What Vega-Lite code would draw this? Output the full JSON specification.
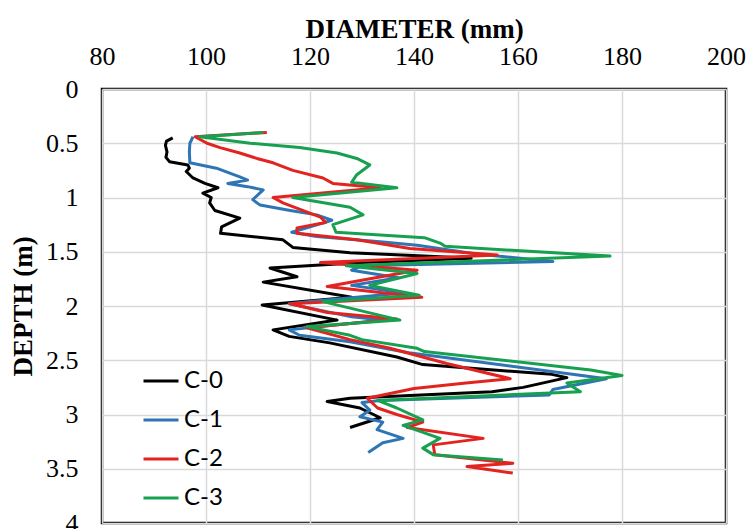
{
  "$schema": "https://vega.github.io/schema/vega-lite/v6.json",
  "width": 624,
  "height": 434,
  "autosize": {"type": "none"},
  "padding": {"left": 102, "top": 89, "right": 22, "bottom": 6},
  "background": "white",
  "config": {"view": {"stroke": "#000000", "strokeWidth": 2.5}},
  "datasets": {
    "curves": [
      {"s": "C-0", "d": 93.6, "y": 0.45}, {"s": "C-0", "d": 92.4, "y": 0.48}, {"s": "C-0", "d": 92.2, "y": 0.52}, {"s": "C-0", "d": 92.5, "y": 0.58}, {"s": "C-0", "d": 92.3, "y": 0.63}, {"s": "C-0", "d": 93.0, "y": 0.67}, {"s": "C-0", "d": 96.5, "y": 0.70}, {"s": "C-0", "d": 96.8, "y": 0.73}, {"s": "C-0", "d": 96.2, "y": 0.76}, {"s": "C-0", "d": 97.5, "y": 0.82}, {"s": "C-0", "d": 99.8, "y": 0.87}, {"s": "C-0", "d": 102.3, "y": 0.91}, {"s": "C-0", "d": 99.4, "y": 0.96}, {"s": "C-0", "d": 101.0, "y": 1.00}, {"s": "C-0", "d": 100.7, "y": 1.05}, {"s": "C-0", "d": 101.7, "y": 1.12}, {"s": "C-0", "d": 106.5, "y": 1.19}, {"s": "C-0", "d": 103.0, "y": 1.27}, {"s": "C-0", "d": 102.8, "y": 1.33}, {"s": "C-0", "d": 114.8, "y": 1.39}, {"s": "C-0", "d": 116.7, "y": 1.46}, {"s": "C-0", "d": 127.7, "y": 1.51}, {"s": "C-0", "d": 142.0, "y": 1.54}, {"s": "C-0", "d": 151.0, "y": 1.56}, {"s": "C-0", "d": 130.0, "y": 1.60}, {"s": "C-0", "d": 112.3, "y": 1.65}, {"s": "C-0", "d": 117.5, "y": 1.73}, {"s": "C-0", "d": 111.0, "y": 1.78}, {"s": "C-0", "d": 128.0, "y": 1.92}, {"s": "C-0", "d": 110.8, "y": 1.99}, {"s": "C-0", "d": 125.2, "y": 2.13}, {"s": "C-0", "d": 112.9, "y": 2.22}, {"s": "C-0", "d": 116.0, "y": 2.28}, {"s": "C-0", "d": 123.8, "y": 2.34}, {"s": "C-0", "d": 136.7, "y": 2.47}, {"s": "C-0", "d": 141.7, "y": 2.54}, {"s": "C-0", "d": 166.5, "y": 2.63}, {"s": "C-0", "d": 169.4, "y": 2.66}, {"s": "C-0", "d": 161.0, "y": 2.75}, {"s": "C-0", "d": 155.0, "y": 2.79}, {"s": "C-0", "d": 127.7, "y": 2.85}, {"s": "C-0", "d": 123.3, "y": 2.88}, {"s": "C-0", "d": 129.6, "y": 2.94}, {"s": "C-0", "d": 133.5, "y": 3.03}, {"s": "C-0", "d": 127.7, "y": 3.12},

      {"s": "C-1", "d": 97.5, "y": 0.44}, {"s": "C-1", "d": 96.9, "y": 0.50}, {"s": "C-1", "d": 96.8, "y": 0.58}, {"s": "C-1", "d": 96.9, "y": 0.68}, {"s": "C-1", "d": 102.0, "y": 0.73}, {"s": "C-1", "d": 106.5, "y": 0.81}, {"s": "C-1", "d": 108.0, "y": 0.84}, {"s": "C-1", "d": 104.2, "y": 0.87}, {"s": "C-1", "d": 108.0, "y": 0.90}, {"s": "C-1", "d": 111.0, "y": 0.93}, {"s": "C-1", "d": 109.0, "y": 1.02}, {"s": "C-1", "d": 110.4, "y": 1.07}, {"s": "C-1", "d": 116.2, "y": 1.12}, {"s": "C-1", "d": 121.3, "y": 1.16}, {"s": "C-1", "d": 124.2, "y": 1.21}, {"s": "C-1", "d": 116.5, "y": 1.32}, {"s": "C-1", "d": 121.3, "y": 1.36}, {"s": "C-1", "d": 134.0, "y": 1.41}, {"s": "C-1", "d": 140.6, "y": 1.44}, {"s": "C-1", "d": 152.0, "y": 1.52}, {"s": "C-1", "d": 166.7, "y": 1.59}, {"s": "C-1", "d": 130.0, "y": 1.63}, {"s": "C-1", "d": 128.0, "y": 1.67}, {"s": "C-1", "d": 137.0, "y": 1.74}, {"s": "C-1", "d": 128.0, "y": 1.81}, {"s": "C-1", "d": 138.0, "y": 1.88}, {"s": "C-1", "d": 122.0, "y": 1.95}, {"s": "C-1", "d": 116.0, "y": 1.98}, {"s": "C-1", "d": 128.0, "y": 2.10}, {"s": "C-1", "d": 134.0, "y": 2.13}, {"s": "C-1", "d": 116.0, "y": 2.22}, {"s": "C-1", "d": 118.0, "y": 2.27}, {"s": "C-1", "d": 127.7, "y": 2.33}, {"s": "C-1", "d": 139.0, "y": 2.43}, {"s": "C-1", "d": 169.0, "y": 2.62}, {"s": "C-1", "d": 177.0, "y": 2.67}, {"s": "C-1", "d": 166.7, "y": 2.77}, {"s": "C-1", "d": 166.0, "y": 2.82}, {"s": "C-1", "d": 133.5, "y": 2.87}, {"s": "C-1", "d": 130.0, "y": 2.89}, {"s": "C-1", "d": 131.5, "y": 2.96}, {"s": "C-1", "d": 129.6, "y": 3.02}, {"s": "C-1", "d": 134.0, "y": 3.07}, {"s": "C-1", "d": 132.9, "y": 3.14}, {"s": "C-1", "d": 137.9, "y": 3.22}, {"s": "C-1", "d": 134.0, "y": 3.26}, {"s": "C-1", "d": 131.2, "y": 3.35},

      {"s": "C-2", "d": 111.7, "y": 0.40}, {"s": "C-2", "d": 97.9, "y": 0.44}, {"s": "C-2", "d": 100.2, "y": 0.50}, {"s": "C-2", "d": 102.7, "y": 0.54}, {"s": "C-2", "d": 106.5, "y": 0.59}, {"s": "C-2", "d": 109.8, "y": 0.64}, {"s": "C-2", "d": 112.9, "y": 0.68}, {"s": "C-2", "d": 116.7, "y": 0.75}, {"s": "C-2", "d": 122.5, "y": 0.82}, {"s": "C-2", "d": 124.4, "y": 0.87}, {"s": "C-2", "d": 133.5, "y": 0.91}, {"s": "C-2", "d": 112.9, "y": 1.00}, {"s": "C-2", "d": 114.8, "y": 1.05}, {"s": "C-2", "d": 122.0, "y": 1.18}, {"s": "C-2", "d": 123.0, "y": 1.23}, {"s": "C-2", "d": 117.5, "y": 1.28}, {"s": "C-2", "d": 117.5, "y": 1.33}, {"s": "C-2", "d": 129.0, "y": 1.39}, {"s": "C-2", "d": 139.2, "y": 1.47}, {"s": "C-2", "d": 156.0, "y": 1.53}, {"s": "C-2", "d": 122.0, "y": 1.60}, {"s": "C-2", "d": 140.6, "y": 1.67}, {"s": "C-2", "d": 123.3, "y": 1.82}, {"s": "C-2", "d": 141.5, "y": 1.92}, {"s": "C-2", "d": 116.2, "y": 1.98}, {"s": "C-2", "d": 123.3, "y": 2.06}, {"s": "C-2", "d": 136.7, "y": 2.12}, {"s": "C-2", "d": 119.4, "y": 2.20}, {"s": "C-2", "d": 127.7, "y": 2.31}, {"s": "C-2", "d": 135.4, "y": 2.39}, {"s": "C-2", "d": 146.3, "y": 2.53}, {"s": "C-2", "d": 158.5, "y": 2.67}, {"s": "C-2", "d": 150.0, "y": 2.71}, {"s": "C-2", "d": 140.0, "y": 2.76}, {"s": "C-2", "d": 131.0, "y": 2.85}, {"s": "C-2", "d": 133.0, "y": 2.94}, {"s": "C-2", "d": 136.7, "y": 3.00}, {"s": "C-2", "d": 141.7, "y": 3.07}, {"s": "C-2", "d": 138.7, "y": 3.12}, {"s": "C-2", "d": 153.3, "y": 3.22}, {"s": "C-2", "d": 143.7, "y": 3.28}, {"s": "C-2", "d": 144.0, "y": 3.37}, {"s": "C-2", "d": 159.0, "y": 3.45}, {"s": "C-2", "d": 150.2, "y": 3.48}, {"s": "C-2", "d": 159.0, "y": 3.54},

      {"s": "C-3", "d": 111.0, "y": 0.40}, {"s": "C-3", "d": 98.8, "y": 0.44}, {"s": "C-3", "d": 108.5, "y": 0.50}, {"s": "C-3", "d": 118.0, "y": 0.54}, {"s": "C-3", "d": 125.2, "y": 0.59}, {"s": "C-3", "d": 129.0, "y": 0.64}, {"s": "C-3", "d": 131.5, "y": 0.70}, {"s": "C-3", "d": 129.0, "y": 0.79}, {"s": "C-3", "d": 128.0, "y": 0.86}, {"s": "C-3", "d": 136.7, "y": 0.91}, {"s": "C-3", "d": 116.7, "y": 1.00}, {"s": "C-3", "d": 127.7, "y": 1.09}, {"s": "C-3", "d": 130.2, "y": 1.16}, {"s": "C-3", "d": 124.4, "y": 1.25}, {"s": "C-3", "d": 125.0, "y": 1.32}, {"s": "C-3", "d": 142.0, "y": 1.37}, {"s": "C-3", "d": 145.0, "y": 1.42}, {"s": "C-3", "d": 146.0, "y": 1.45}, {"s": "C-3", "d": 177.7, "y": 1.54}, {"s": "C-3", "d": 127.0, "y": 1.63}, {"s": "C-3", "d": 140.6, "y": 1.70}, {"s": "C-3", "d": 131.5, "y": 1.81}, {"s": "C-3", "d": 141.0, "y": 1.90}, {"s": "C-3", "d": 122.5, "y": 1.96}, {"s": "C-3", "d": 137.3, "y": 2.13}, {"s": "C-3", "d": 119.4, "y": 2.19}, {"s": "C-3", "d": 127.7, "y": 2.27}, {"s": "C-3", "d": 130.0, "y": 2.31}, {"s": "C-3", "d": 140.6, "y": 2.39}, {"s": "C-3", "d": 142.0, "y": 2.42}, {"s": "C-3", "d": 174.0, "y": 2.59}, {"s": "C-3", "d": 180.0, "y": 2.64}, {"s": "C-3", "d": 169.4, "y": 2.71}, {"s": "C-3", "d": 172.0, "y": 2.79}, {"s": "C-3", "d": 133.0, "y": 2.87}, {"s": "C-3", "d": 136.7, "y": 2.94}, {"s": "C-3", "d": 141.7, "y": 3.05}, {"s": "C-3", "d": 137.9, "y": 3.10}, {"s": "C-3", "d": 145.0, "y": 3.22}, {"s": "C-3", "d": 141.7, "y": 3.31}, {"s": "C-3", "d": 143.7, "y": 3.37}, {"s": "C-3", "d": 157.1, "y": 3.42}
    ]
  },
  "data": {"name": "curves"},
  "mark": {"type": "line", "strokeWidth": 3, "strokeJoin": "round", "clip": true},
  "encoding": {
    "x": {
      "field": "d", "type": "quantitative",
      "scale": {"domain": [80, 200], "nice": false, "zero": false},
      "axis": {
        "orient": "top", "title": "DIAMETER (mm)",
        "values": [80, 100, 120, 140, 160, 180, 200],
        "grid": true, "gridColor": "#d9d9d9", "gridWidth": 1.5,
        "domain": false, "ticks": false, "labelFlush": false,
        "labelFont": "Liberation Serif", "labelFontSize": 26, "labelColor": "#000000", "labelPadding": 20,
        "titleFont": "Liberation Serif", "titleFontSize": 27, "titleFontWeight": "bold", "titleColor": "#000000", "titlePadding": 0
      }
    },
    "y": {
      "field": "y", "type": "quantitative",
      "scale": {"domain": [0, 4], "reverse": true, "nice": false, "zero": false},
      "axis": {
        "title": "DEPTH (m)",
        "values": [0, 0.5, 1, 1.5, 2, 2.5, 3, 3.5, 4], "format": "~g",
        "grid": true, "gridColor": "#d9d9d9", "gridWidth": 1.5,
        "domain": false, "ticks": false, "labelFlush": false,
        "labelFont": "Liberation Serif", "labelFontSize": 26, "labelColor": "#000000", "labelPadding": 24,
        "titleFont": "Liberation Serif", "titleFontSize": 27, "titleFontWeight": "bold", "titleColor": "#000000", "titlePadding": 8
      }
    },
    "color": {
      "field": "s", "type": "nominal",
      "scale": {"domain": ["C-0", "C-1", "C-2", "C-3"], "range": ["#000000", "#2E75B6", "#E3231F", "#17A050"]},
      "legend": {
        "orient": "none", "legendX": 40, "legendY": 273, "title": null,
        "symbolType": "stroke", "symbolSize": 1225, "symbolStrokeWidth": 3,
        "labelFont": "Lato", "labelFontSize": 24, "labelColor": "#000000", "labelOffset": 4,
        "rowPadding": 8, "padding": 0
      }
    },
    "order": {"field": "y", "type": "quantitative"}
  }
}
